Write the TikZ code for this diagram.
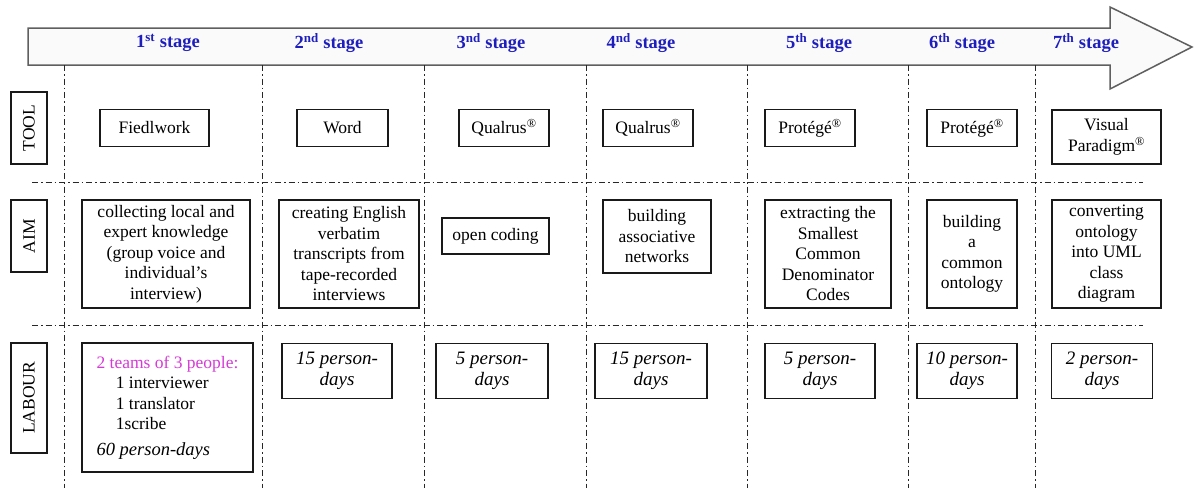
\documentclass[tikz,border=0pt]{standalone}
\usepackage{fontspec}
\setmainfont{Liberation Serif}
\definecolor{stageblue}{RGB}{30,30,190}
\definecolor{teammag}{RGB}{214,58,214}
\definecolor{arrowline}{RGB}{95,95,95}
\definecolor{arrowfill}{RGB}{250,250,250}
\definecolor{gridline}{RGB}{40,40,40}
\newcommand{\reg}{\textsuperscript{\textregistered}}
\tikzset{
  every node/.style={inner sep=0pt, outer sep=0pt},
  boxtxt/.style={font=\fontsize{17.5}{20.5}\selectfont},
  cell/.style={draw=black!90, line width=1.1pt, fill=white, align=center, boxtxt},
  sidelbl/.style={cell, rotate=90, minimum height=36pt},
  stagelbl/.style={font=\fontsize{18.5}{20}\selectfont\bfseries, text=stageblue},
  labtxt/.style={cell, font=\fontsize{19}{21}\selectfont\itshape},
  gridl/.style={draw=gridline, line width=0.9pt, dash pattern=on 6pt off 3pt on 1.5pt off 3pt}
}
\begin{document}
\begin{tikzpicture}[x=1pt,y=-1pt]
\useasboundingbox (0,0) rectangle (1194,488);
% big arrow
\draw[draw=arrowline, fill=arrowfill, line width=1.5pt, line join=miter]
  (28,28) -- (1110,28) -- (1110,7) -- (1192,47) -- (1110,89) -- (1110,65) -- (28,65) -- cycle;
% stage labels
\node[stagelbl] (s1) at (168,43) {1\textsuperscript{st} stage};
\node[stagelbl] (s2) at (329,43) {2\textsuperscript{nd} stage};
\node[stagelbl] (s3) at (491,43) {3\textsuperscript{nd} stage};
\node[stagelbl] (s4) at (641,43) {4\textsuperscript{nd} stage};
\node[stagelbl] (s5) at (819,43) {5\textsuperscript{th} stage};
\node[stagelbl] (s6) at (962,43) {6\textsuperscript{th} stage};
\node[stagelbl] (s7) at (1086,43) {7\textsuperscript{th} stage};
% grid lines
\foreach \x in {64,262,424,586,747,908,1035} \draw[gridl] (\x,65) -- (\x,488);
\draw[gridl] (32,182) -- (1143,182);
\draw[gridl] (32,325) -- (1143,325);
% side labels
\node[sidelbl, minimum width=72pt] (tool) at (29,128) {TOOL};
\node[sidelbl, minimum width=72pt] (aim) at (29,236) {AIM};
\node[sidelbl, minimum width=110pt] (labour) at (29,398) {LABOUR};
% TOOL row
\node[cell, minimum width=109pt, minimum height=37pt] (t1) at (154.5,128) {Fiedlwork};
\node[cell, minimum width=91pt, minimum height=37pt] (t2) at (342.5,128) {Word};
\node[cell, minimum width=90pt, minimum height=37pt] (t3) at (504,128) {Qualrus\reg};
\node[cell, minimum width=90pt, minimum height=37pt] (t4) at (648,128) {Qualrus\reg};
\node[cell, minimum width=90pt, minimum height=37pt] (t5) at (810,128) {Protégé\reg};
\node[cell, minimum width=90pt, minimum height=37pt] (t6) at (972,128) {Protégé\reg};
\node[cell, minimum width=109pt, minimum height=54pt] (t7) at (1106.5,137) {Visual\\Paradigm\reg};
% AIM row
\node[cell, minimum width=168pt, minimum height=108pt] (a1) at (166,254) {collecting local and\\expert knowledge\\(group voice and\\individual’s\\interview)};
\node[cell, minimum width=140pt, minimum height=108pt] (a2) at (349,254) {creating English\\verbatim\\transcripts from\\tape-recorded\\interviews};
\node[cell, minimum width=107pt, minimum height=36pt] (a3) at (495.5,236) {open coding};
\node[cell, minimum width=108pt, minimum height=73pt] (a4) at (657,236.5) {building\\associative\\networks};
\node[cell, minimum width=126pt, minimum height=108pt] (a5) at (828,254) {extracting the\\Smallest\\Common\\Denominator\\Codes};
\node[cell, minimum width=90pt, minimum height=108pt] (a6) at (972,254) {building\\a\\common\\ontology};
\node[cell, minimum width=109pt, minimum height=108pt] (a7) at (1106.5,254) {converting\\ontology\\into UML\\class\\diagram};
% LABOUR row
\node[cell, align=left, minimum width=171pt, minimum height=129pt] (l1) at (167.5,407.5)
  {{\color{teammag}2 teams of 3 people:}\\
   \hspace*{1.1em}1 interviewer\\
   \hspace*{1.1em}1 translator\\
   \hspace*{1.1em}1scribe\\[5pt]
   {\fontsize{18.5}{20.5}\selectfont\itshape 60 person-days}};
\node[labtxt, minimum width=110pt, minimum height=55pt] (l2) at (337,371) {15 person-\\days};
\node[labtxt, minimum width=112pt, minimum height=55pt] (l3) at (492,371) {5 person-\\days};
\node[labtxt, minimum width=112pt, minimum height=55pt] (l4) at (651,371) {15 person-\\days};
\node[labtxt, minimum width=110pt, minimum height=55pt] (l5) at (820,371) {5 person-\\days};
\node[labtxt, minimum width=100pt, minimum height=55pt] (l6) at (967,371) {10 person-\\days};
\node[labtxt, minimum width=101pt, minimum height=55pt] (l7) at (1102,371) {2 person-\\days};
\end{tikzpicture}
\end{document}
